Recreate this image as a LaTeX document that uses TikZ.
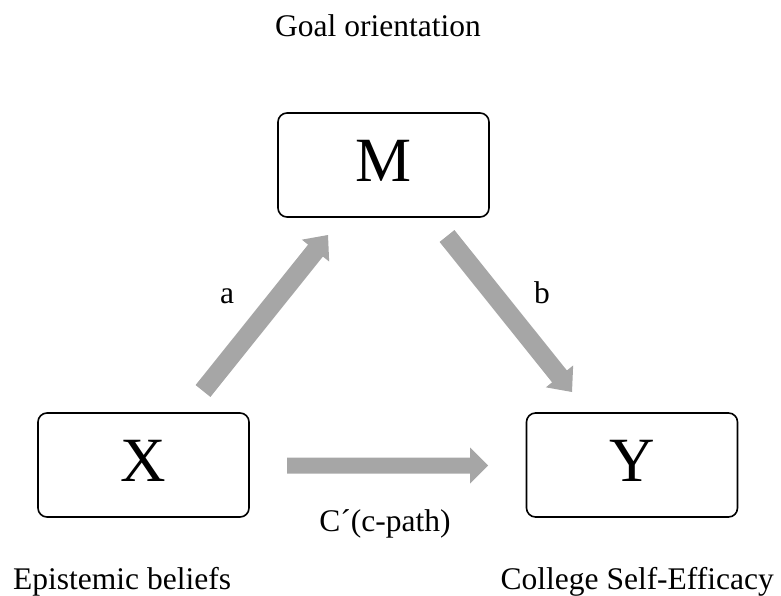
\documentclass[tikz,border=0pt]{standalone}
\usepackage{fontspec}
\setmainfont{Liberation Serif}
\usetikzlibrary{calc}

\definecolor{pathgray}{RGB}{166,166,166}

% Block arrow: #1 tail, #2 tip, #3 shaft half-width, #4 head half-width, #5 head length
\newcommand{\blockarrow}[5]{%
  \coordinate (ba-h) at ($(#2)!#5!(#1)$);
  \fill[pathgray]
    ($(#1)!#3!90:(#2)$) -- ($(ba-h)!#3!90:(#2)$) -- ($(ba-h)!#4!90:(#2)$)
    -- (#2)
    -- ($(ba-h)!#4!-90:(#2)$) -- ($(ba-h)!#3!-90:(#2)$) -- ($(#1)!#3!-90:(#2)$)
    -- cycle;
}

\tikzset{
  varbox/.style={draw, line width=1.6pt, rounded corners=9pt,
    minimum width=211pt, minimum height=104pt, inner sep=0pt,
    font=\fontsize{63}{63}\selectfont, text depth=7.7pt},
  lbl/.style={font=\fontsize{31.5}{31.5}\selectfont, inner sep=0pt},
}

\begin{document}
\begin{tikzpicture}[x=1pt, y=-1pt]
  \useasboundingbox (0,0) rectangle (781,596);

  % variables
  \node[varbox] (M) at (383.5,165) {M};
  \node[varbox] (X) at (143.5,465) {X};
  \node[varbox] (Y) at (632,465) {Y};

  % construct names and path labels
  \node[lbl, anchor=base] (goal) at (378,37) {Goal orientation};
  \node[lbl, anchor=base west] (epist) at (13,589) {Epistemic beliefs};
  \node[lbl, anchor=base east] (cse) at (774,589) {College Self-Efficacy};
  \node[lbl, anchor=base] (cpath) at (385,531) {C´(c-path)};
  \node[lbl, anchor=base] (la) at (227,303) {a};
  \node[lbl, anchor=base] (lb) at (542,303) {b};

  % arrow end points
  \coordinate (a0) at (203,391);
  \coordinate (a1) at (328,235);
  \coordinate (b0) at (447,236);
  \coordinate (b1) at (572,392);
  \coordinate (c0) at (287,465.5);
  \coordinate (c1) at (488,465.5);

  % paths
  \blockarrow{a0}{a1}{9.5pt}{17.5pt}{20pt}
  \blockarrow{b0}{b1}{9.5pt}{17.5pt}{20pt}
  \blockarrow{c0}{c1}{8pt}{18pt}{18pt}
\end{tikzpicture}
\end{document}
